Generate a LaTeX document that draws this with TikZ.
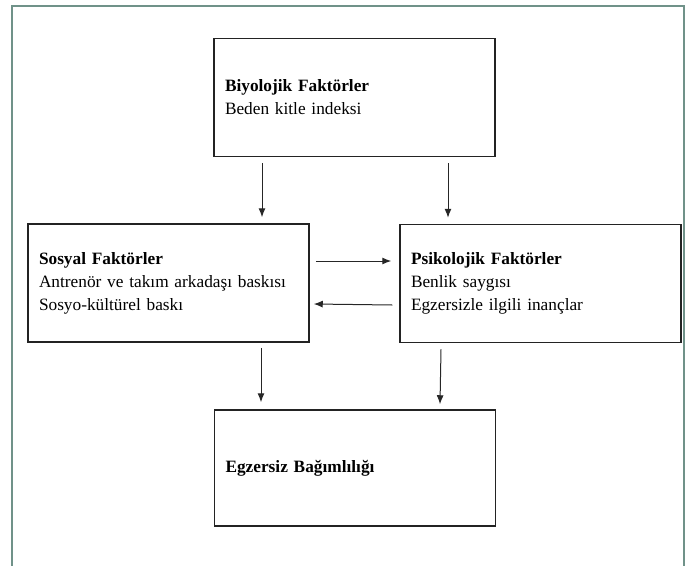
\documentclass[tikz,border=0pt]{standalone}
\usepackage{fontspec}
\setmainfont{Liberation Serif}
\usetikzlibrary{arrows.meta}
\definecolor{framegray}{RGB}{112,146,137}
\definecolor{boxline}{RGB}{35,35,35}

\begin{document}
\begin{tikzpicture}[x=1pt, y=-1pt,
    factor/.style={draw=boxline, line width=1.5pt, rectangle, text width=259pt,
        inner xsep=11pt, minimum height=118pt, align=left,
        font=\fontsize{17.3pt}{23pt}\selectfont},
    link/.style={-{Latex[length=9pt, width=7pt]}, line width=1pt, black!85}]

    \useasboundingbox (0,0) rectangle (690,565);

    % Outer frame
    \draw[framegray, line width=1.5pt] (12,566) -- (12,6) -- (684,6) -- (684,566);

    % Top box
    \node[factor] (bio) at (354.5, 97.5) {\textbf{Biyolojik Faktörler}\\Beden kitle indeksi};

    % Middle boxes
    \node[factor] (sos) at (168.5, 283) {\textbf{Sosyal Faktörler}\\Antrenör ve takım arkadaşı baskısı\\Sosyo-kültürel baskı};
    \node[factor] (psi) at (540.5, 283.5) {\textbf{Psikolojik Faktörler}\\Benlik saygısı\\Egzersizle ilgili inançlar};

    % Bottom box
    \node[factor, minimum height=116pt] (egz) at (355, 468) {\textbf{Egzersiz Bağımlılığı}};

    % Arrows from the top box
    \draw[link] ([xshift=-92.5pt, yshift=-6pt]bio.south) -- ([xshift=93.5pt, yshift=6pt]sos.north);
    \draw[link] ([xshift=93.5pt, yshift=-6pt]bio.south) -- ([xshift=-92.5pt, yshift=6pt]psi.north);

    % Arrows between the middle boxes
    \draw[link] ([xshift=6pt, yshift=22pt]sos.east) -- ([xshift=-8pt, yshift=22.5pt]psi.west);
    \draw[link] ([xshift=-7pt, yshift=-21.5pt]psi.west) -- ([xshift=4pt, yshift=-21pt]sos.east);

    % Arrows to the bottom box
    \draw[link] ([xshift=92.5pt, yshift=-5pt]sos.south) -- ([xshift=-94pt, yshift=7pt]egz.north);
    \draw[link] ([xshift=-99.5pt, yshift=-6pt]psi.south) -- ([xshift=85pt, yshift=5pt]egz.north);

\end{tikzpicture}
\end{document}
